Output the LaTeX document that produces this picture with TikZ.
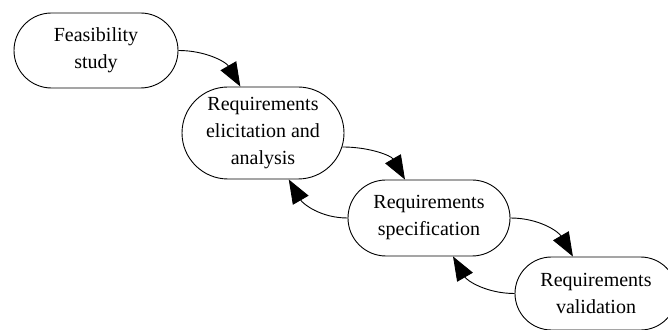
\documentclass[tikz,border=0pt]{standalone}
\usepackage{fontspec}
\setmainfont{Liberation Serif}
\usetikzlibrary{shapes.misc, positioning, arrows.meta}

\begin{document}
\begin{tikzpicture}[on grid, auto,
    phase/.style={rounded rectangle, draw, line width=0.9pt, align=center,
      minimum width=166pt, minimum height=75pt, inner sep=2pt,
      font=\fontsize{20}{27}\selectfont},
    flow/.style={line width=0.9pt, -{Triangle[length=24pt,width=18pt]}}]
  \useasboundingbox (0,0) rectangle (668pt,329pt);
  \node[phase, minimum width=168pt] (feas) at (96pt,278.5pt) {Feasibility\\study};
  \node[phase, minimum height=92pt] (elic) [below right=82.5pt and 167pt of feas] {Requirements\\elicitation and\\analysis};
  \node[phase, minimum height=76pt] (spec) [below right=85pt and 166pt of elic] {Requirements\\specification};
  \node[phase, minimum height=73pt] (valid) [below right=75.5pt and 167pt of spec] {Requirements\\validation};

  \path[flow]
    (feas.east) edge[out=0, in=120] (elic.116)
    (elic.-10) edge[out=0, in=120] (spec.122)
        (spec.west) edge[out=180, in=-60] (elic.-61)
    (spec.east) edge[out=0, in=120] (valid.122)
        (valid.west) edge[out=180, in=-60] (spec.-58);
\end{tikzpicture}
\end{document}
